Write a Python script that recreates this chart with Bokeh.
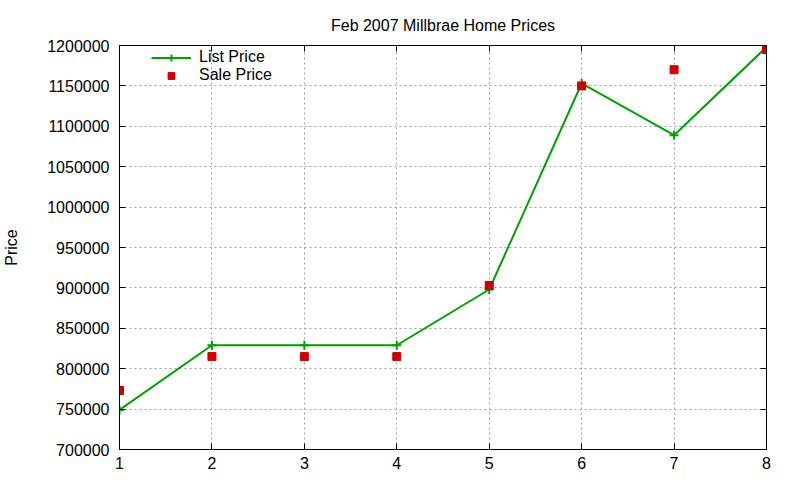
from bokeh.plotting import figure
from bokeh.models import (ColumnDataSource, Range1d, FixedTicker, LinearAxis,
                          Legend, LegendItem, NumeralTickFormatter)
from bokeh.embed import file_html
from bokeh.resources import INLINE

# Data
listing = [1, 2, 3, 4, 5, 6, 7, 8]
list_price = [749000, 829000, 829000, 829000, 898000, 1153000, 1089000, 1198000]
sale_price = [773000, 815000, 815000, 815000, 903000, 1150000, 1170000, 1195000]
x_ticks = [1, 2, 3, 4, 5, 6, 7, 8]
y_ticks = [700000, 750000, 800000, 850000, 900000, 950000, 1000000,
           1050000, 1100000, 1150000, 1200000]

FONT = "Liberation Sans"
GREEN = "#00a000"
RED = "#cc0000"
FS = "16px"

src = ColumnDataSource(dict(x=listing, lp=list_price, sp=sale_price))

p = figure(width=792, height=474, output_backend="svg", toolbar_location=None,
           x_range=Range1d(1, 8), y_range=Range1d(700000, 1200000),
           min_border_left=118, min_border_right=26, min_border_top=45,
           min_border_bottom=25, background_fill_color="white",
           border_fill_color="white")

p.title.text = "Feb 2007 Millbrae Home Prices"
p.title.align = "center"
p.title.text_font = FONT
p.title.text_font_size = FS
p.title.text_font_style = "normal"
p.title.text_color = "#000000"
p.title.standoff = 24

p.outline_line_color = "black"
p.outline_line_width = 1

for ax in (p.xaxis[0], p.yaxis[0]):
    ax.major_label_text_font = FONT
    ax.major_label_text_font_size = FS
    ax.major_label_text_color = "black"
    ax.major_tick_out = 0
    ax.major_tick_in = 6
    ax.minor_tick_out = 0
    ax.minor_tick_in = 0
    ax.axis_line_color = "black"
    ax.major_tick_line_color = "black"

p.xaxis[0].ticker = FixedTicker(ticks=x_ticks)
p.yaxis[0].ticker = FixedTicker(ticks=y_ticks)
p.yaxis[0].formatter = NumeralTickFormatter(format="0")
p.xaxis[0].major_label_standoff = 7
p.yaxis[0].major_label_standoff = 10
p.yaxis[0].axis_label = "Price"
p.yaxis[0].axis_label_text_font = FONT
p.yaxis[0].axis_label_text_font_size = FS
p.yaxis[0].axis_label_text_font_style = "normal"
p.yaxis[0].axis_label_text_color = "black"
p.yaxis[0].axis_label_standoff = 24

# mirrored ticks on right/top (minor ticks only, so no labels are drawn)
for loc, tk in (("right", y_ticks), ("above", x_ticks)):
    ax = LinearAxis(ticker=FixedTicker(ticks=[], minor_ticks=tk))
    ax.major_tick_out = 0
    ax.major_tick_in = 0
    ax.minor_tick_out = 0
    ax.minor_tick_in = 6
    ax.major_label_standoff = 0
    ax.axis_line_color = "black"
    ax.minor_tick_line_color = "black"
    p.add_layout(ax, loc)

p.xgrid.ticker = FixedTicker(ticks=x_ticks)
p.ygrid.ticker = FixedTicker(ticks=y_ticks)
for g in (p.xgrid[0], p.ygrid[0]):
    g.grid_line_color = "#a0a0a0"
    g.grid_line_dash = "2 3"
    g.grid_line_width = 1

ln = p.line("x", "lp", source=src, line_color=GREEN, line_width=2)
cr = p.scatter("x", "lp", source=src, marker="cross", size=9,
               line_color=GREEN, line_width=2)
sq = p.scatter("x", "sp", source=src, marker="square", size=8,
               fill_color=RED, line_color=RED)

legend = Legend(items=[LegendItem(label="List Price", renderers=[ln, cr]),
                       LegendItem(label="Sale Price", renderers=[sq])],
                location=(32, 365), background_fill_alpha=0,
                border_line_color=None, label_text_font=FONT,
                label_text_font_size=FS, label_text_color="black",
                glyph_width=40, glyph_height=17,
                label_height=17, spacing=0, padding=2, margin=0,
                label_standoff=8)
p.add_layout(legend, "center")

open("out.html", "w").write(file_html(p, INLINE))
